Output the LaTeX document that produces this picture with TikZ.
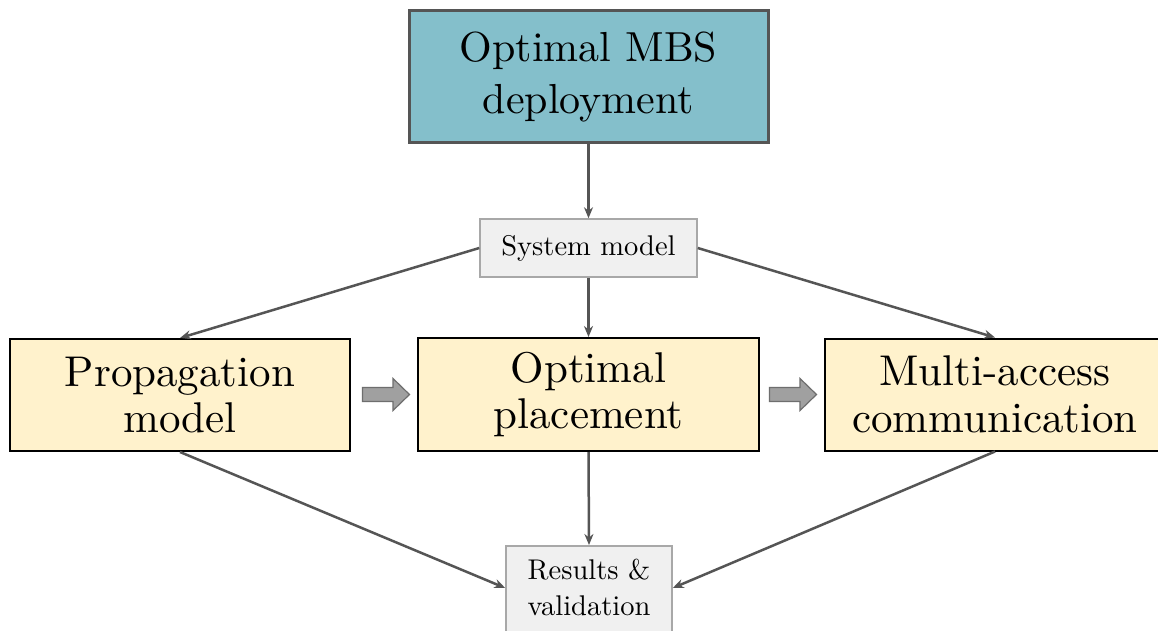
\documentclass[tikz,border=0pt]{standalone}
\usepackage{fontspec}
\setmainfont{lmroman10-regular}[Extension=.otf]
\usetikzlibrary{arrows.meta}
\definecolor{tealfill}{HTML}{84BFCB}
\definecolor{cream}{HTML}{FFF2CC}
\definecolor{lightbox}{HTML}{F0F0F0}
\definecolor{lightedge}{HTML}{A8A8A8}
\definecolor{linkgray}{HTML}{555555}
\definecolor{blockfill}{HTML}{A0A0A0}
\definecolor{blockedge}{HTML}{6E6E6E}
\tikzset{
  headbox/.style={draw=linkgray, line width=3pt, fill=tealfill, inner sep=0pt,
    minimum width=359pt, minimum height=132pt, align=center,
    font=\fontsize{42}{52}\selectfont},
  stagebox/.style={draw=black, line width=2pt, fill=cream, inner sep=0pt,
    minimum width=340pt, minimum height=112pt, align=center,
    font=\fontsize{43}{46.5}\selectfont},
  smallbox/.style={draw=lightedge, line width=1.5pt, fill=lightbox, inner sep=0pt,
    align=center, font=\fontsize{28.5}{36}\selectfont},
  link/.style={draw=linkgray, line width=2.5pt,
    -{Stealth[length=11pt,width=9pt]}},
  blockarrow/.style={draw=blockedge, line width=1.2pt, fill=blockfill, line join=miter}
}
\begin{document}
\begin{tikzpicture}[x=1pt,y=-1pt]
\clip (0,0) rectangle (1158,631);
\fill[white] (0,0) rectangle (1158,631);

\node[headbox] (mbs) at (588.5,77) {Optimal MBS\\deployment};
\node[smallbox, minimum width=217pt, minimum height=58pt] (sys) at (588.5,248) {System model};
\node[stagebox] (prop) at (180,395) {Propagation\\model};
\node[stagebox, minimum width=341pt, minimum height=113pt] (place) at (588.5,394.5) {Optimal\\placement};
\node[stagebox] (multi) at (995,394.5) {Multi-access\\communication};
% last box runs past the lower edge of the page (empty third line)
\node[smallbox, minimum width=166pt, inner ysep=13pt, anchor=north] (res) at (589,545)
  {Results \&\\validation\\\mbox{}};

\draw[link] (mbs.south) -- (sys.north);
\draw[link] (sys.west) -- (prop.north);
\draw[link] (sys.south) -- (place.north);
\draw[link] (sys.east) -- (multi.north);
\draw[link] (prop.south) -- ([yshift=-43pt]res.north west);
\draw[link] (place.south) -- (res.north);
\draw[link] (multi.south) -- ([yshift=-43pt]res.north east);

% block arrows between the stages
\draw[blockarrow] (362.5,387.5) -- (393,387.5) -- (393,378.5) -- (409.5,394.5)
  -- (393,410.5) -- (393,401.5) -- (362.5,401.5) -- cycle;
\draw[blockarrow] (769.5,387.5) -- (800,387.5) -- (800,378.5) -- (816.5,394.5)
  -- (800,410.5) -- (800,401.5) -- (769.5,401.5) -- cycle;
\end{tikzpicture}
\end{document}
